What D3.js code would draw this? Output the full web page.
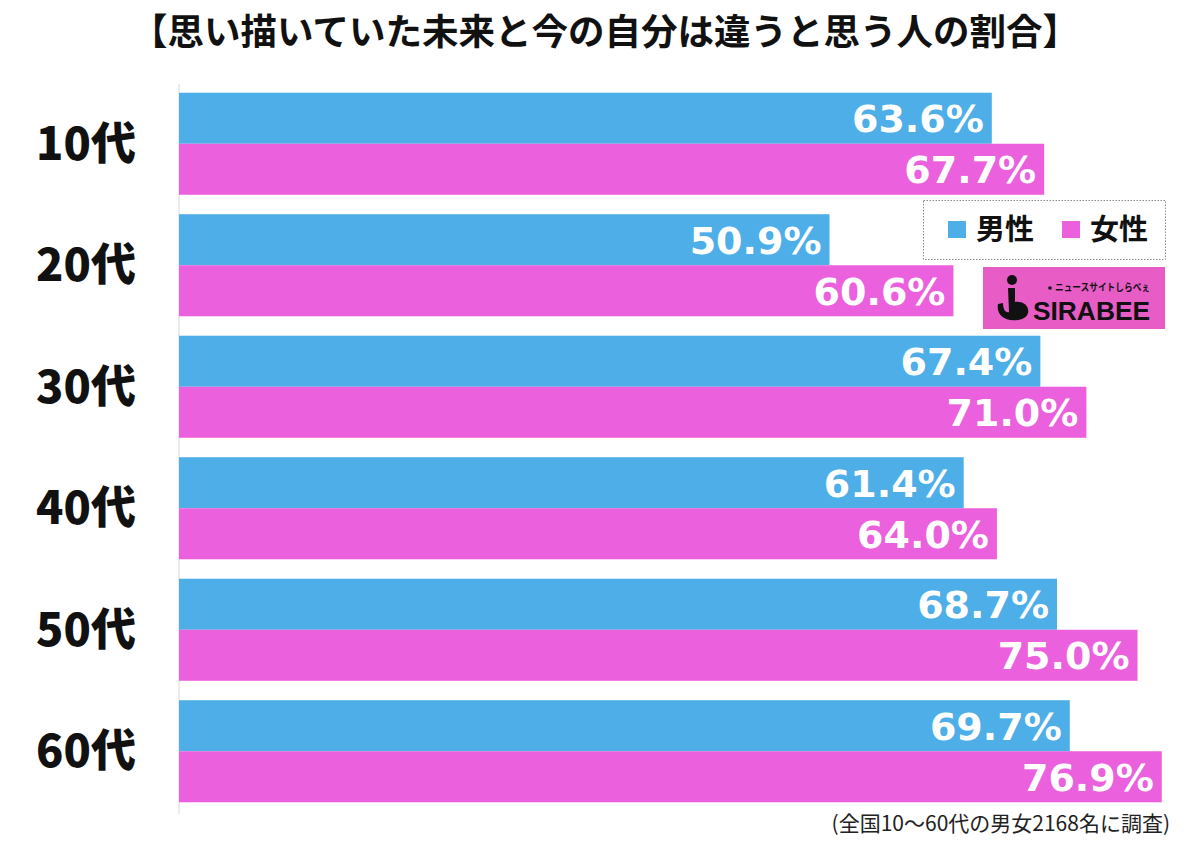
<!DOCTYPE html>
<html>
<head>
<meta charset="utf-8">
<script src="https://cdn.jsdelivr.net/npm/d3@7"></script>
<style>
  html, body { margin: 0; padding: 0; background: #fff; }
  svg { display: block; }
</style>
</head>
<body>
<div id="chart"></div>
<script>
const categories = ["10代", "20代", "30代", "40代", "50代", "60代"];
const seriesNames = ["男性", "女性"];
const maleValues = [63.6, 50.9, 67.4, 61.4, 68.7, 69.7];
const femaleValues = [67.7, 60.6, 71.0, 64.0, 75.0, 76.9];
const seriesColors = ["#4daee8", "#eb60dc"];

const titleText = "【思い描いていた未来と今の自分は違うと思う人の割合】";
const noteText = "(全国10～60代の男女2168名に調査)";

const width = 1200, height = 843;
const cjk = "'Noto Sans CJK JP', 'Noto Sans', sans-serif";

const svg = d3.select("#chart")
  .append("svg")
  .attr("width", width)
  .attr("height", height);

// scales
const x = d3.scaleLinear().domain([0, 100]).range([179, 1457]);
const y = d3.scaleBand().domain(categories).range([83, 812]).paddingInner(0.16).paddingOuter(0.08);
const sub = d3.scaleBand().domain(seriesNames).range([0, y.bandwidth()]);

const rows = categories.map((c, i) => ({
  cat: c,
  values: [
    { name: seriesNames[0], v: maleValues[i], color: seriesColors[0] },
    { name: seriesNames[1], v: femaleValues[i], color: seriesColors[1] }
  ]
}));

// title
svg.append("text")
  .attr("x", 605)
  .attr("y", 45)
  .attr("text-anchor", "middle")
  .attr("font-family", cjk)
  .attr("font-weight", 700)
  .attr("font-size", 36.5)
  .attr("fill", "#111")
  .text(titleText);

// axis line (very faint)
svg.append("line")
  .attr("x1", x(0)).attr("x2", x(0))
  .attr("y1", 84).attr("y2", 814)
  .attr("stroke", "#e6e6e6")
  .attr("stroke-width", 1.5);

// groups
const g = svg.selectAll(".grp")
  .data(rows)
  .enter()
  .append("g")
  .attr("class", "grp")
  .attr("transform", d => `translate(0,${y(d.cat)})`);

g.selectAll("rect")
  .data(d => d.values)
  .enter()
  .append("rect")
  .attr("x", x(0))
  .attr("y", d => sub(d.name))
  .attr("width", d => x(d.v) - x(0))
  .attr("height", sub.bandwidth())
  .attr("fill", d => d.color);

g.selectAll(".val")
  .data(d => d.values)
  .enter()
  .append("text")
  .attr("class", "val")
  .attr("x", d => x(d.v) - 8)
  .attr("y", d => sub(d.name) + sub.bandwidth() / 2 + 14)
  .attr("text-anchor", "end")
  .attr("font-family", "'DejaVu Sans', sans-serif")
  .attr("font-weight", 700)
  .attr("font-size", 38)
  .attr("fill", "#fff")
  .text(d => d3.format(".1f")(d.v) + "%");

// category labels
g.append("text")
  .attr("x", 86)
  .attr("y", y.bandwidth() / 2 + 16)
  .attr("text-anchor", "middle")
  .attr("font-family", cjk)
  .attr("font-weight", 900)
  .attr("font-size", 45)
  .attr("fill", "#111")
  .text(d => d.cat);

// legend
const legend = svg.append("g");
legend.append("rect")
  .attr("x", 923.5).attr("y", 200.5)
  .attr("width", 242).attr("height", 59)
  .attr("fill", "#fff")
  .attr("stroke", "#888")
  .attr("stroke-width", 1)
  .attr("stroke-dasharray", "1.5,1.5");

const legendX = [948, 1062];
seriesNames.forEach((name, i) => {
  legend.append("rect")
    .attr("x", legendX[i]).attr("y", 221)
    .attr("width", 18).attr("height", 17)
    .attr("fill", seriesColors[i]);
  legend.append("text")
    .attr("x", legendX[i] + 28)
    .attr("y", 240)
    .attr("font-family", cjk)
    .attr("font-weight", 700)
    .attr("font-size", 29)
    .attr("fill", "#111")
    .text(name);
});

// logo
const logo = svg.append("g");
logo.append("rect")
  .attr("x", 983).attr("y", 267)
  .attr("width", 182).attr("height", 62)
  .attr("fill", "#e85cc6");
logo.append("circle")
  .attr("cx", 1012).attr("cy", 280).attr("r", 5)
  .attr("fill", "#111");
logo.append("path")
  .attr("d", "M1008,288 L1015,288 L1015,302 C1030,300 1034,318 1018,320 C1004,322 996,314 998,304 L1003,303 C1003,310 1006,313 1009,312 Z")
  .attr("fill", "#111");
logo.append("circle")
  .attr("cx", 1050).attr("cy", 288).attr("r", 1.8)
  .attr("fill", "#111");
logo.append("text")
  .attr("x", 1055).attr("y", 291)
  .attr("font-family", cjk)
  .attr("font-weight", 700)
  .attr("font-size", 10)
  .attr("fill", "#111")
  .attr("textLength", 95)
  .attr("lengthAdjust", "spacingAndGlyphs")
  .text("ニュースサイトしらべぇ");
logo.append("text")
  .attr("x", 1033).attr("y", 320)
  .attr("font-family", "'Liberation Sans Narrow', 'Liberation Sans', sans-serif")
  .attr("font-weight", 700)
  .attr("font-size", 25)
  .attr("fill", "#111")
  .attr("textLength", 117)
  .attr("lengthAdjust", "spacingAndGlyphs")
  .text("SIRABEE");

// footnote
svg.append("text")
  .attr("x", 1170)
  .attr("y", 831)
  .attr("text-anchor", "end")
  .attr("font-family", cjk)
  .attr("font-size", 21)
  .attr("fill", "#222")
  .text(noteText);
</script>
</body>
</html>
